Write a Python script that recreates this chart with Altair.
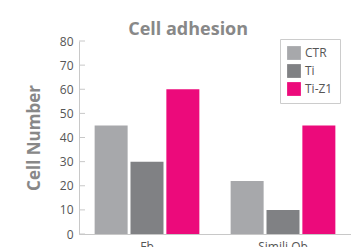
import altair as alt
import pandas as pd

cells = ["Fb", "Fb", "Fb", "Simili Ob", "Simili Ob", "Simili Ob"]
groups = ["CTR", "Ti", "Ti-Z1", "CTR", "Ti", "Ti-Z1"]
values = [45, 30, 60, 22, 10, 45]
tick_values = [0, 10, 20, 30, 40, 50, 60, 70, 80]

series = ["CTR", "Ti", "Ti-Z1"]
colors = ["#a7a8ab", "#808184", "#ec0a7b"]

df = pd.DataFrame({"cell": cells, "group": groups, "value": values})
ticks_df = pd.DataFrame({"t": tick_values})

FONT = "Open Sans"

y_axis = alt.Axis(values=tick_values, ticks=False, grid=False, labelOverlap=False,
                  domainColor="#c8c8c8", labelFont=FONT, labelFontSize=12,
                  labelColor="#555555", labelPadding=6,
                  titleFont=FONT, titleFontSize=17, titleFontWeight="bold",
                  titleColor="#888888", titlePadding=16)
y_scale = alt.Scale(domain=[0, 80], nice=False)

bars = alt.Chart(df).mark_bar().encode(
    x=alt.X("cell:N", title=None, sort=["Fb", "Simili Ob"],
            scale=alt.Scale(paddingInner=0.23, paddingOuter=0.115),
            axis=alt.Axis(labelAngle=0, ticks=False, domainColor="#c8c8c8",
                          labelFont=FONT, labelFontSize=12, labelColor="#555555",
                          labelPadding=7)),
    xOffset=alt.XOffset("group:N", sort=series, scale=alt.Scale(paddingInner=0.08)),
    y=alt.Y("value:Q", title="Cell Number", scale=y_scale, axis=y_axis),
    color=alt.Color("group:N", sort=series,
                    scale=alt.Scale(domain=series, range=colors),
                    legend=alt.Legend(title=None, orient="none", legendX=201, legendY=-2,
                                      symbolType="square", symbolSize=190,
                                      symbolStrokeWidth=0, labelFont=FONT,
                                      labelFontSize=12, labelColor="#555555",
                                      strokeColor="#cccccc", padding=7,
                                      rowPadding=4, labelOffset=4)),
)

tick_marks = alt.Chart(ticks_df).mark_rule(color="#c8c8c8").encode(
    y=alt.Y("t:Q", title="Cell Number", scale=y_scale, axis=y_axis),
    x=alt.value(0),
    x2=alt.value(6),
)

chart = alt.layer(bars, tick_marks).properties(
    width=272, height=193,
    title=alt.TitleParams("Cell adhesion", font=FONT, fontSize=18, fontWeight="bold",
                          color="#888888", anchor="middle", frame="bounds", offset=0,
                          dy=4),
    padding={"left": 17, "top": 13, "right": 0, "bottom": 0},
).configure_view(stroke=None)

chart.save("out.html", embed_options={"renderer": "svg", "actions": False})
